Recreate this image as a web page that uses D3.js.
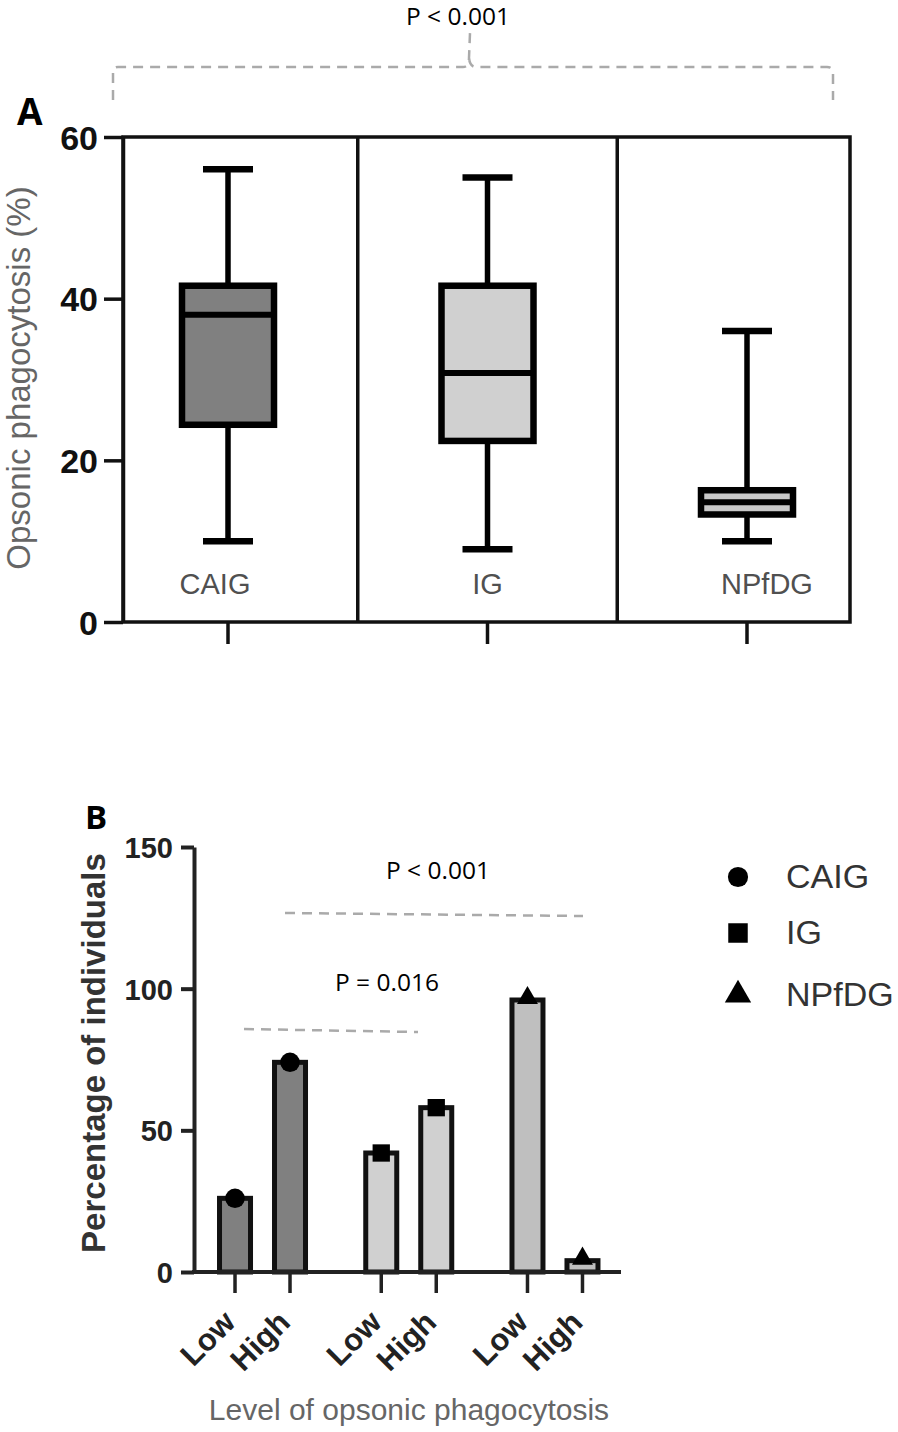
<!DOCTYPE html>
<html>
<head>
<meta charset="utf-8">
<script src="https://cdn.jsdelivr.net/npm/d3@7"></script>
<style>
  body { margin: 0; background: #fff; }
  svg { display: block; }
  text { font-family: "Liberation Sans", Arial, sans-serif; }
</style>
</head>
<body>
<svg id="chart" width="898" height="1432"></svg>
<script>
// ---------- Panel A data (box plots) ----------
const boxGroups = ["CAIG", "IG", "NPfDG"];
const boxMin    = [10, 9, 10];
const boxQ1     = [24.4, 22.4, 13.3];
const boxMedian = [38, 30.8, 14.8];
const boxQ3     = [41.6, 41.6, 16.3];
const boxMax    = [56, 55, 36];
const boxFill   = ["#808080", "#d0d0d0", "#c8c8c8"];
const yTicksA   = [0, 20, 40, 60];

// ---------- Panel B data (bars) ----------
const barGroups = ["CAIG", "IG", "NPfDG"];
const levels    = ["Low", "High"];
const pctCAIG   = [26, 74];
const pctIG     = [42, 58];
const pctNPfDG  = [96, 4];
const barFill   = ["#808080", "#d0d0d0", "#bfbfbf"];
const yTicksB   = [0, 50, 100, 150];

const svg = d3.select("#chart");

// ================= PANEL A =================
const A = { left: 123, right: 850, top: 137, bottom: 622 };
const xA = d3.scaleBand().domain(boxGroups).range([98.25, 876.75]).padding(0);
const yA = d3.scaleLinear().domain([0, 60]).range([A.bottom, A.top]);
const boxW = 92;
const capW = 50;

// bracket
svg.append("path")
  .attr("d", "M113,100 L113,72 Q113,67 118,67 L463,67 Q469,67 469,58 L470,33 M469,58 Q470,67 476,67 L827,67 Q833,67 833,73 L833,100")
  .attr("fill", "none").attr("stroke", "#aaaaaa").attr("stroke-width", 2.5)
  .attr("stroke-dasharray", "10,7");
svg.append("text").attr("x", 458).attr("y", 25).attr("text-anchor", "middle")
  .style("font-family", "'Open Sans', sans-serif").style("font-size", "24.5px").attr("fill", "#000")
  .text("P < 0.001");

// panel letter
svg.append("text").attr("x", 17).attr("y", 125)
  .style("font-family", "'Open Sans', sans-serif").style("font-weight", "bold").style("font-size", "37px")
  .text("A");

// y axis
const gYA = svg.append("g").attr("transform", `translate(${A.left},0)`)
  .call(d3.axisLeft(yA).tickValues(yTicksA).tickSize(19).tickSizeOuter(0).tickPadding(6));
gYA.select(".domain").attr("stroke", "#111").attr("stroke-width", 3.5);
gYA.selectAll(".tick line").attr("stroke", "#111").attr("stroke-width", 3.5);
gYA.selectAll(".tick text").attr("fill", "#111").style("font-size", "34px").style("font-weight", "bold")
  .style("font-family", "'Liberation Sans', Arial, sans-serif").attr("dy", "0.36em");

// x ticks below frame
const gXA = svg.append("g").attr("transform", `translate(0,${A.bottom})`)
  .call(d3.axisBottom(xA).tickSize(22).tickSizeOuter(0).tickFormat(""));
gXA.select(".domain").remove();
gXA.selectAll(".tick line").attr("stroke", "#111").attr("stroke-width", 3.5);

// frame + dividers
svg.append("rect").attr("x", A.left).attr("y", A.top)
  .attr("width", A.right - A.left).attr("height", A.bottom - A.top)
  .attr("fill", "none").attr("stroke", "#111").attr("stroke-width", 3.5);
boxGroups.slice(1).forEach(g => {
  svg.append("line").attr("x1", xA(g)).attr("x2", xA(g))
    .attr("y1", A.top).attr("y2", A.bottom)
    .attr("stroke", "#111").attr("stroke-width", 3.5);
});

// boxes
boxGroups.forEach((g, i) => {
  const cx = xA(g) + xA.bandwidth() / 2;
  const gg = svg.append("g");
  gg.append("line").attr("x1", cx).attr("x2", cx).attr("y1", yA(boxMax[i])).attr("y2", yA(boxQ3[i]))
    .attr("stroke", "#000").attr("stroke-width", 5.5);
  gg.append("line").attr("x1", cx).attr("x2", cx).attr("y1", yA(boxQ1[i])).attr("y2", yA(boxMin[i]))
    .attr("stroke", "#000").attr("stroke-width", 5.5);
  [boxMax[i], boxMin[i]].forEach(v => {
    gg.append("line").attr("x1", cx - capW / 2).attr("x2", cx + capW / 2)
      .attr("y1", yA(v)).attr("y2", yA(v)).attr("stroke", "#000").attr("stroke-width", 6.5);
  });
  gg.append("rect").attr("x", cx - boxW / 2).attr("y", yA(boxQ3[i]))
    .attr("width", boxW).attr("height", yA(boxQ1[i]) - yA(boxQ3[i]))
    .attr("fill", boxFill[i]).attr("stroke", "#000").attr("stroke-width", 6.5);
  gg.append("line").attr("x1", cx - boxW / 2).attr("x2", cx + boxW / 2)
    .attr("y1", yA(boxMedian[i])).attr("y2", yA(boxMedian[i]))
    .attr("stroke", "#000").attr("stroke-width", 6);
});

// group labels inside
const labelOffsetA = [-13, 0, 20];
boxGroups.forEach((g, i) => {
  svg.append("text").attr("x", xA(g) + xA.bandwidth() / 2 + labelOffsetA[i]).attr("y", 594)
    .attr("text-anchor", "middle").attr("fill", "#505050").style("font-size", "29px").text(g);
});

// y label A
svg.append("text").attr("transform", `translate(30,378) rotate(-90)`)
  .attr("text-anchor", "middle").attr("fill", "#666").style("font-size", "33px")
  .text("Opsonic phagocytosis (%)");

// ================= PANEL B =================
const B = { left: 194, right: 621, top: 847, bottom: 1272 };
const xB = d3.scaleBand().domain(barGroups).range([189.4, 628.1]).padding(0);
const step = xB.bandwidth();
const xIn = d3.scaleBand().domain(levels).range([step / 2 - 55, step / 2 + 55]).padding(0);
const yB = d3.scaleLinear().domain([0, 150]).range([B.bottom, B.top]);
const barW = 31;
const seriesB = [pctCAIG, pctIG, pctNPfDG];

svg.append("text").attr("x", 85).attr("y", 829)
  .style("font-family", "'Open Sans', sans-serif").style("font-weight", "bold").style("font-size", "33px")
  .text("B");

// y axis B
const gYB = svg.append("g").attr("transform", `translate(${B.left},0)`)
  .call(d3.axisLeft(yB).tickValues(yTicksB).tickSize(13).tickSizeOuter(0).tickPadding(8));
gYB.select(".domain").attr("stroke", "#222").attr("stroke-width", 4);
gYB.selectAll(".tick line").attr("stroke", "#222").attr("stroke-width", 4);
gYB.selectAll(".tick text").attr("fill", "#222").style("font-size", "29px").style("font-weight", "bold")
  .style("font-family", "'Liberation Sans', Arial, sans-serif").attr("dy", "0.36em");

// bars
const catX = [];
barGroups.forEach((g, gi) => {
  levels.forEach((lv, li) => {
    const cx = xB(g) + xIn(lv) + xIn.bandwidth() / 2;
    catX.push({ cx, lv });
    const v = seriesB[gi][li];
    svg.append("rect").attr("x", cx - barW / 2).attr("y", yB(v))
      .attr("width", barW).attr("height", yB(0) - yB(v))
      .attr("fill", barFill[gi]).attr("stroke", "#111").attr("stroke-width", 5);
  });
});

// x axis line B
svg.append("line").attr("x1", B.left - 2).attr("x2", B.right).attr("y1", B.bottom).attr("y2", B.bottom)
  .attr("stroke", "#222").attr("stroke-width", 4);
catX.forEach(d => {
  svg.append("line").attr("x1", d.cx).attr("x2", d.cx).attr("y1", B.bottom).attr("y2", B.bottom + 21)
    .attr("stroke", "#222").attr("stroke-width", 3.5);
  svg.append("text").attr("transform", `translate(${d.cx + 2},${B.bottom + 52}) rotate(-45)`)
    .attr("text-anchor", "end").attr("fill", "#222").style("font-size", "31px").style("font-weight", "bold")
    .text(d.lv);
});

// markers
const symTypes = [d3.symbolCircle, d3.symbolSquare, d3.symbolTriangle];
const symSizes = [300, 300, 190];
barGroups.forEach((g, gi) => {
  levels.forEach((lv, li) => {
    const cx = xB(g) + xIn(lv) + xIn.bandwidth() / 2;
    const v = seriesB[gi][li];
    svg.append("path").attr("d", d3.symbol().type(symTypes[gi]).size(symSizes[gi])())
      .attr("transform", `translate(${cx},${yB(v) + (gi === 2 ? -2 : 0)})`).attr("fill", "#000");
  });
});

// significance dashes
svg.append("line").attr("x1", 285).attr("y1", 913).attr("x2", 583).attr("y2", 916)
  .attr("stroke", "#aaa").attr("stroke-width", 2.5).attr("stroke-dasharray", "10,7");
svg.append("line").attr("x1", 244).attr("y1", 1029).attr("x2", 418).attr("y2", 1032)
  .attr("stroke", "#aaa").attr("stroke-width", 2.5).attr("stroke-dasharray", "10,7");
svg.append("text").attr("x", 438).attr("y", 879).attr("text-anchor", "middle")
  .style("font-family", "'Open Sans', sans-serif").style("font-size", "24.5px").text("P < 0.001");
svg.append("text").attr("x", 387).attr("y", 991).attr("text-anchor", "middle")
  .style("font-family", "'Open Sans', sans-serif").style("font-size", "24.5px").text("P = 0.016");

// legend
const legY = [877, 933, 995];
barGroups.forEach((g, gi) => {
  svg.append("path").attr("d", d3.symbol().type(symTypes[gi]).size([320, 380, 300][gi])())
    .attr("transform", `translate(738,${legY[gi]})`).attr("fill", "#000");
  svg.append("text").attr("x", 786).attr("y", legY[gi] + 11).attr("fill", "#333")
    .style("font-size", "34px").text(g);
});

// axis titles B
svg.append("text").attr("transform", `translate(105,1053) rotate(-90)`)
  .attr("text-anchor", "middle").attr("fill", "#333").style("font-size", "33px").style("font-weight", "bold")
  .text("Percentage of individuals");
svg.append("text").attr("x", 409).attr("y", 1420).attr("text-anchor", "middle")
  .attr("fill", "#666").style("font-size", "30px").text("Level of opsonic phagocytosis");
</script>
</body>
</html>
